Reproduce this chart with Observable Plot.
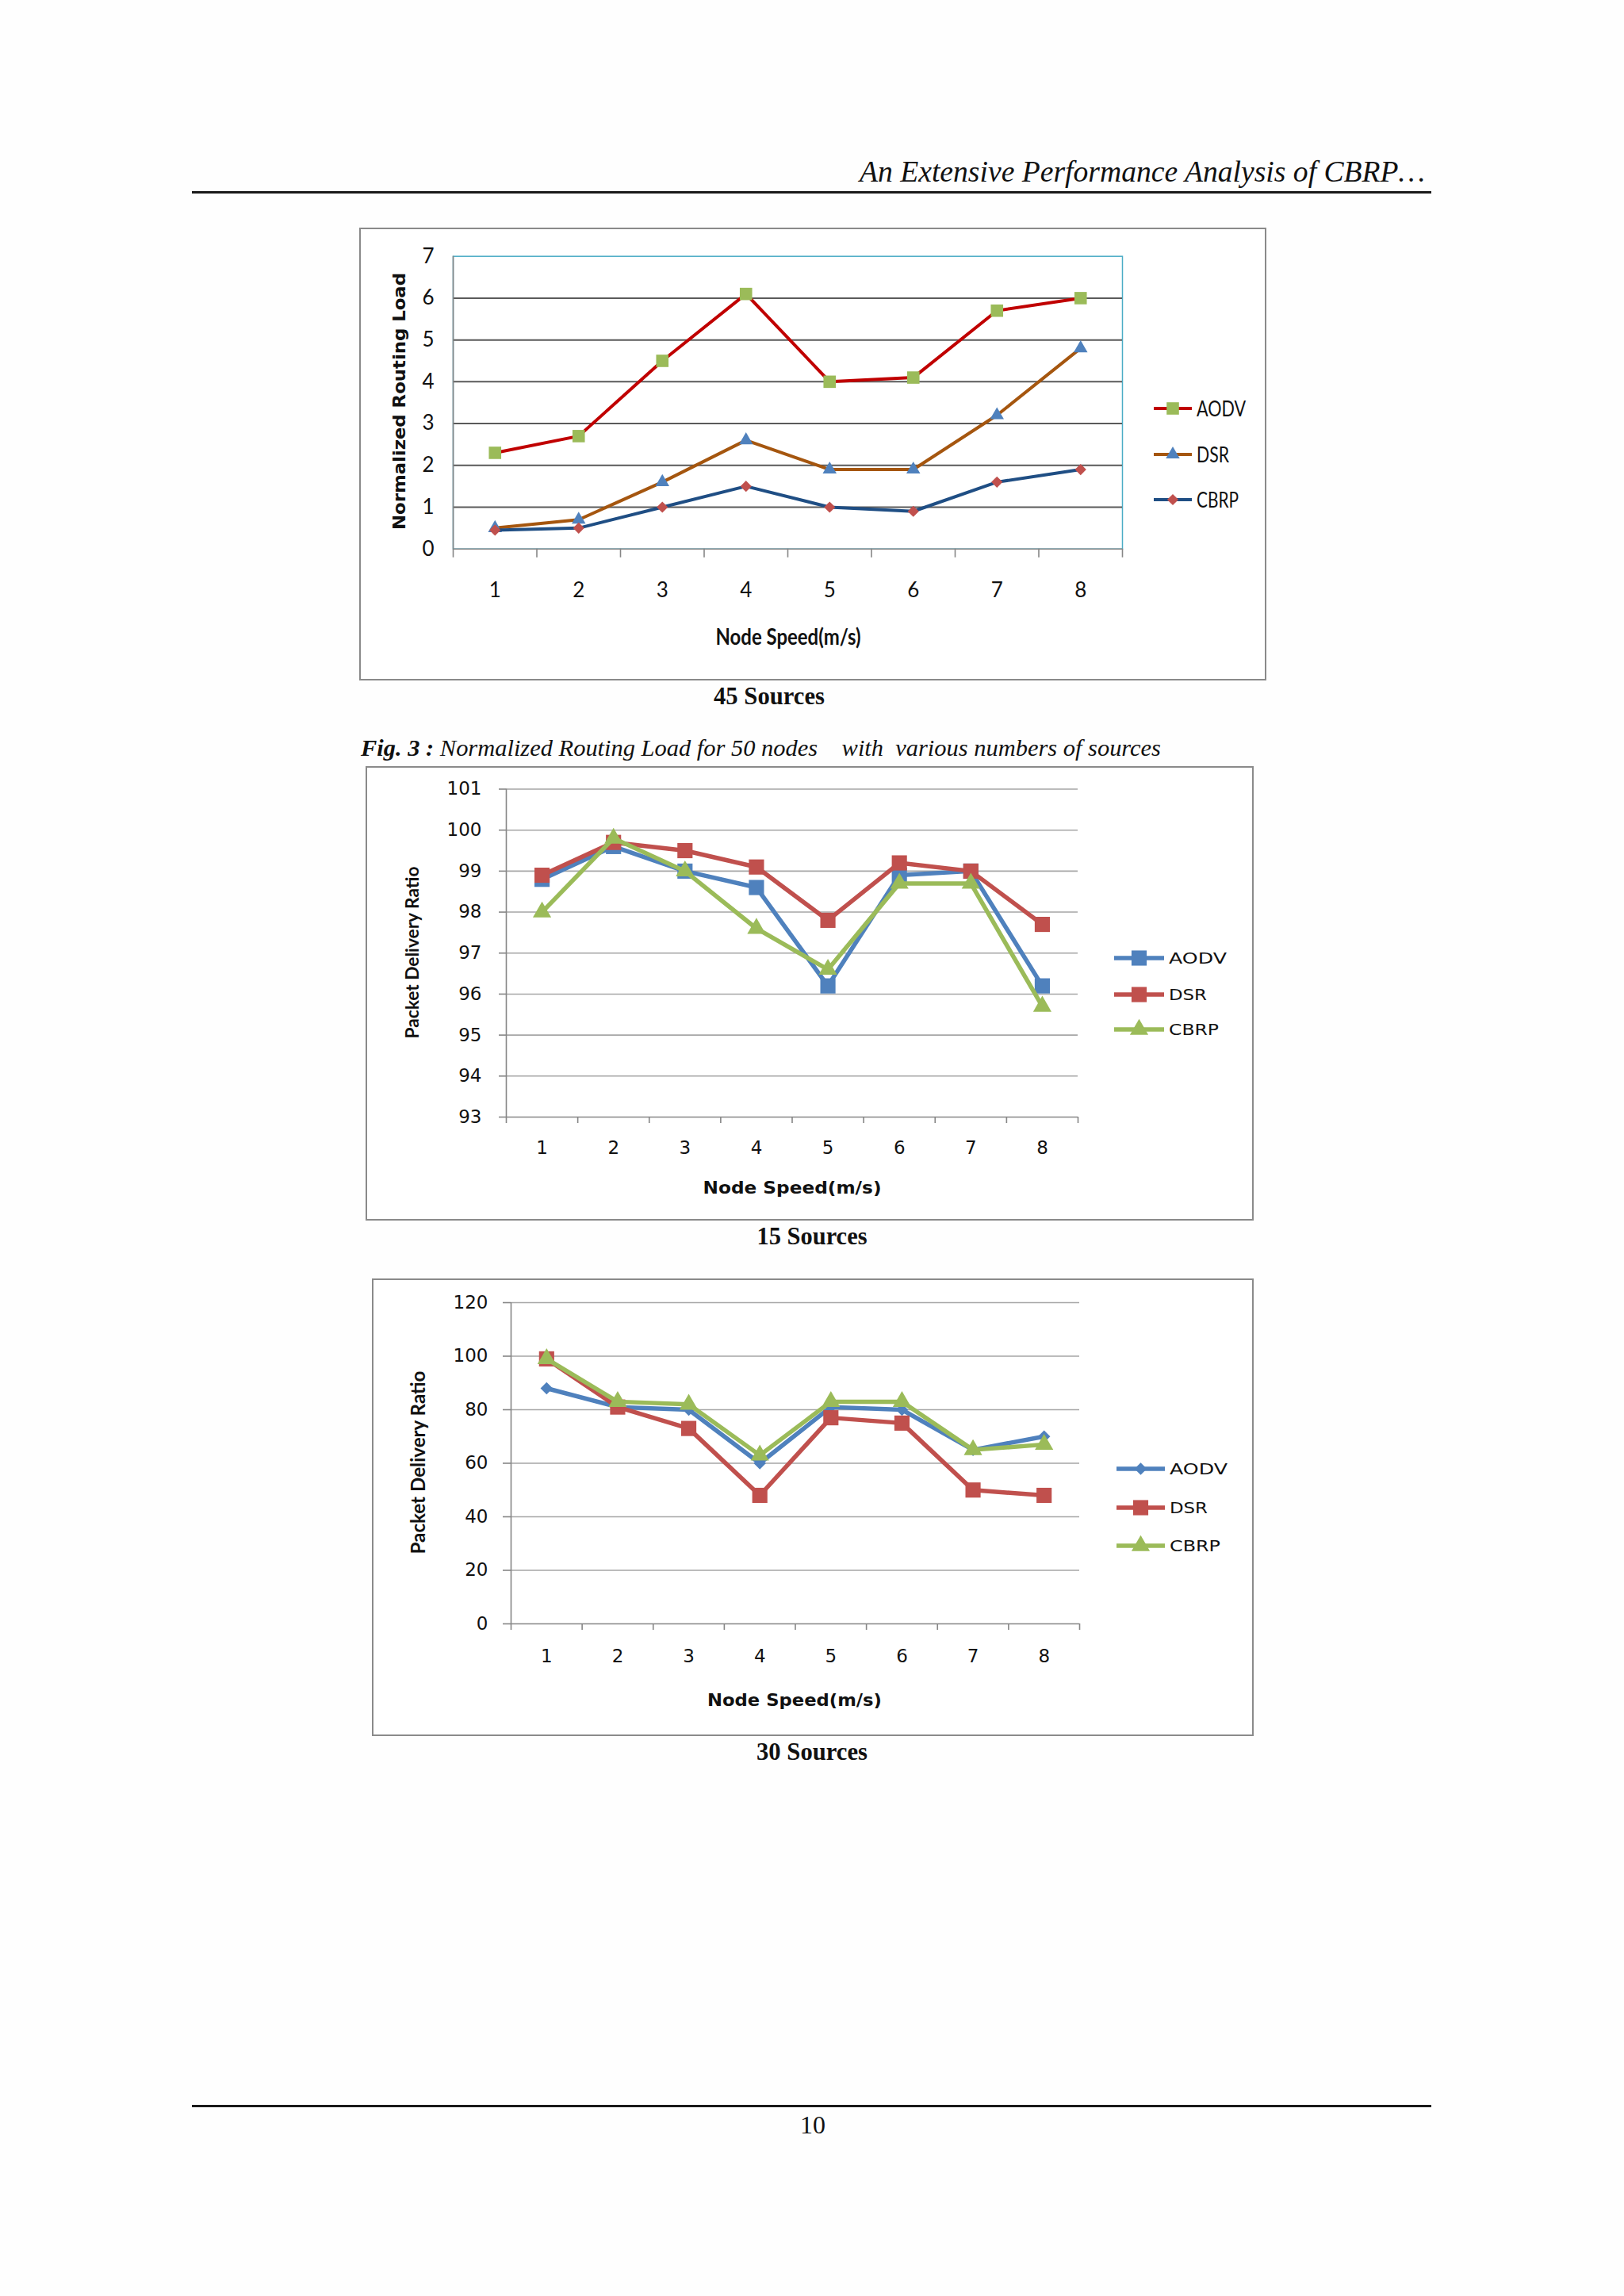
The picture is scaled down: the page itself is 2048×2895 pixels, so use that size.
<!DOCTYPE html>
<html>
<head>
<meta charset="utf-8">
<script src="https://cdn.jsdelivr.net/npm/d3@7"></script>
<script src="https://cdn.jsdelivr.net/npm/@observablehq/plot@0.6"></script>
<style>
html, body { margin: 0; padding: 0; }
body { width: 2048px; height: 2895px; position: relative; background: #fefefe; overflow: hidden; }
.box { position: absolute; box-sizing: border-box; border: 2px solid #8a8a8a; background: #ffffff; }
.chart { position: absolute; }
#overlay { position: absolute; left: 0; top: 0; pointer-events: none; }
</style>
</head>
<body>
<script>
// ---------------- data ----------------
const speeds = [1, 2, 3, 4, 5, 6, 7, 8];
const protocols = ["AODV", "DSR", "CBRP"];

// Normalized Routing Load, 45 sources
const nrl45AODV = [2.3, 2.7, 4.5, 6.1, 4.0, 4.1, 5.7, 6.0];
const nrl45DSR  = [0.5, 0.7, 1.6, 2.6, 1.9, 1.9, 3.2, 4.8];
const nrl45CBRP = [0.45, 0.5, 1.0, 1.5, 1.0, 0.9, 1.6, 1.9];
const nrl45Ticks = [0, 1, 2, 3, 4, 5, 6, 7];

// Packet Delivery Ratio, 15 sources
const pdr15AODV = [98.8, 99.6, 99.0, 98.6, 96.2, 98.9, 99.0, 96.2];
const pdr15DSR  = [98.9, 99.7, 99.5, 99.1, 97.8, 99.2, 99.0, 97.7];
const pdr15CBRP = [98.0, 99.8, 99.0, 97.6, 96.6, 98.7, 98.7, 95.7];
const pdr15Ticks = [93, 94, 95, 96, 97, 98, 99, 100, 101];

// Packet Delivery Ratio, 30 sources
const pdr30AODV = [88, 81, 80, 60, 81, 80, 65, 70];
const pdr30DSR  = [99, 81, 73, 48, 77, 75, 50, 48];
const pdr30CBRP = [99, 83, 82, 63, 83, 83, 65, 67];
const pdr30Ticks = [0, 20, 40, 60, 80, 100, 120];

const xTitle = "Node Speed(m/s)";
const yTitleNRL = "Normalized Routing Load";
const yTitlePDR = "Packet Delivery Ratio";

// ---------------- styles ----------------
const C_BLUE = "#4f81bd", C_RED = "#c0504d", C_GREEN = "#9bbb59";
const AXIS = "#868686";
const SERIF = "Liberation Serif, Times New Roman, serif";

const charts = [
  {
    box: [453, 287, 1597, 858], margins: [35.7, 182, 166.3, 118],
    ticks: nrl45Ticks, frameColor: "#4bacc6", gridColor: "#5a5a5a", gridWidth: 2,
    xTickSize: 11, yTickSize: 0, yPad: 24, xPad: 42,
    tickFont: "Lato, sans-serif", tickSize: 26, lineWidth: 4,
    series: [
      {name: "AODV", values: nrl45AODV, line: "#c00000", marker: C_GREEN, symbol: "square", r: 8.8},
      {name: "DSR", values: nrl45DSR, line: "#a5560f", marker: C_BLUE, symbol: "triangle", r: 6.5},
      {name: "CBRP", values: nrl45CBRP, line: "#1f4e84", marker: C_RED, symbol: "diamond2", r: 6.4}
    ]
  },
  {
    box: [461, 966, 1581, 1539], margins: [28.5, 222, 131, 177],
    ticks: pdr15Ticks, frameColor: null, gridColor: "#a6a6a6", gridWidth: 1.6,
    xTickSize: 8, yTickSize: 9, yPad: 22, xPad: 30,
    tickFont: "DejaVu Sans, sans-serif", tickSize: 23, lineWidth: 5.5,
    series: [
      {name: "AODV", values: pdr15AODV, line: C_BLUE, marker: C_BLUE, symbol: "square", r: 10.8},
      {name: "DSR", values: pdr15DSR, line: C_RED, marker: C_RED, symbol: "square", r: 10.8},
      {name: "CBRP", values: pdr15CBRP, line: C_GREEN, marker: C_GREEN, symbol: "triangle", r: 8.6}
    ]
  },
  {
    box: [469, 1612, 1581, 2189], margins: [30, 220, 142, 175],
    ticks: pdr30Ticks, frameColor: null, gridColor: "#a6a6a6", gridWidth: 1.6,
    xTickSize: 8, yTickSize: 10, yPad: 19, xPad: 32,
    tickFont: "DejaVu Sans, sans-serif", tickSize: 23, lineWidth: 5.5,
    series: [
      {name: "AODV", values: pdr30AODV, line: C_BLUE, marker: C_BLUE, symbol: "diamond2", r: 7},
      {name: "DSR", values: pdr30DSR, line: C_RED, marker: C_RED, symbol: "square", r: 10.8},
      {name: "CBRP", values: pdr30CBRP, line: C_GREEN, marker: C_GREEN, symbol: "triangle", r: 8.6}
    ]
  }
];

function drawChart(cfg) {
  const [x0, y0, x1, y1] = cfg.box;
  const W = x1 - x0, H = y1 - y0;
  const [mt, mr, mb, ml] = cfg.margins;
  const box = document.createElement("div");
  box.className = "box";
  Object.assign(box.style, {left: x0 + "px", top: y0 + "px", width: W + "px", height: H + "px"});
  document.body.appendChild(box);

  const boundaries = [...speeds.map(s => s - 0.5), speeds[speeds.length - 1] + 0.5];
  const lo = cfg.ticks[0], hi = cfg.ticks[cfg.ticks.length - 1];
  const gridTicks = cfg.frameColor ? cfg.ticks.slice(1, -1) : cfg.ticks.slice(1);
  const marks = [];
  if (cfg.frameColor) marks.push(Plot.frame({stroke: cfg.frameColor, strokeWidth: 1.5}));
  marks.push(Plot.ruleY(gridTicks, {stroke: cfg.gridColor, strokeWidth: cfg.gridWidth}));
  marks.push(Plot.ruleY([lo], {stroke: AXIS, strokeWidth: 1.6}));
  marks.push(Plot.ruleX([boundaries[0]], {stroke: AXIS, strokeWidth: 1.6}));
  marks.push(Plot.axisX({ticks: boundaries, tickSize: cfg.xTickSize, tickFormat: () => "", stroke: AXIS, strokeWidth: 1.6, label: null}));
  marks.push(Plot.axisX({ticks: speeds, tickSize: 0, tickPadding: cfg.xPad, tickFormat: d => String(d),
    fontSize: cfg.tickSize, fontFamily: cfg.tickFont, fill: "#111", label: null}));
  marks.push(Plot.axisY({ticks: cfg.ticks, tickSize: cfg.yTickSize, tickPadding: cfg.yPad, tickFormat: d => String(d),
    stroke: AXIS, strokeWidth: 1.6, fontSize: cfg.tickSize, fontFamily: cfg.tickFont, fill: "#111", label: null}));
  for (const s of cfg.series) {
    const rows = speeds.map((sp, i) => ({speed: sp, value: s.values[i], protocol: s.name}));
    marks.push(Plot.line(rows, {x: "speed", y: "value", stroke: s.line, strokeWidth: cfg.lineWidth, strokeLinejoin: "round"}));
    marks.push(Plot.dot(rows, {x: "speed", y: "value", symbol: s.symbol, r: s.r, fill: s.marker, stroke: "none"}));
  }
  const svg = Plot.plot({
    width: W, height: H,
    marginTop: mt, marginRight: mr, marginBottom: mb, marginLeft: ml,
    x: {type: "linear", domain: [boundaries[0], boundaries[boundaries.length - 1]]},
    y: {type: "linear", domain: [lo, hi]},
    style: {background: "transparent", overflow: "visible", fontFamily: cfg.tickFont, fontSize: cfg.tickSize + "px", color: "#111"},
    marks
  });
  svg.classList.add("chart");
  svg.style.left = x0 + "px";
  svg.style.top = y0 + "px";
  svg.style.position = "absolute";
  document.body.appendChild(svg);
}

charts.forEach(drawChart);

// ---------------- page text, legends, rules ----------------
const ov = d3.select("body").append("svg").attr("id", "overlay").attr("width", 2048).attr("height", 2895);

function txt(str, o) {
  const t = ov.append("text")
    .attr("font-family", o.family || SERIF)
    .attr("font-size", o.size)
    .attr("fill", o.fill || "#111")
    .attr("text-anchor", o.anchor || "start")
    .style("white-space", "pre");
  if (o.weight) t.attr("font-weight", o.weight);
  if (o.italic) t.attr("font-style", "italic");
  if (o.rotate) {
    t.attr("transform", `translate(${o.x},${o.y}) rotate(${o.rotate})`).attr("dy", "0.36em");
  } else {
    t.attr("x", o.x).attr("y", o.y);
  }
  if (o.len) t.attr("textLength", o.len).attr("lengthAdjust", "spacingAndGlyphs");
  if (str != null) t.text(str);
  return t;
}

// header
txt("An Extensive Performance Analysis of CBRP\u2026", {x: 1084, y: 229, size: 38, italic: true, len: 713});
ov.append("line").attr("x1", 242).attr("x2", 1805).attr("y1", 242.5).attr("y2", 242.5).attr("stroke", "#1a1a1a").attr("stroke-width", 3);
// footer
ov.append("line").attr("x1", 242).attr("x2", 1805).attr("y1", 2655.5).attr("y2", 2655.5).attr("stroke", "#1a1a1a").attr("stroke-width", 3);
txt("10", {x: 1025, y: 2690, size: 32, anchor: "middle"});

// captions
txt("45 Sources", {x: 970, y: 888, size: 31, weight: "bold", anchor: "middle", len: 140});
const fig = txt(null, {x: 455, y: 953, size: 29, italic: true, len: 1009});
fig.append("tspan").attr("font-weight", "bold").text("Fig. 3 :");
fig.append("tspan").text(" Normalized Routing Load for 50 nodes    with  various numbers of sources");
txt("15 Sources", {x: 1024, y: 1569, size: 31, weight: "bold", anchor: "middle", len: 139});
txt("30 Sources", {x: 1024, y: 2219, size: 31, weight: "bold", anchor: "middle", len: 140});

// axis titles
txt(yTitleNRL, {x: 503, y: 506, size: 21, family: "DejaVu Sans, sans-serif", weight: "bold", anchor: "middle", rotate: -90, len: 324});
txt(xTitle, {x: 994, y: 813, size: 28, family: "Lato, sans-serif", weight: "bold", anchor: "middle", len: 183});
txt(yTitlePDR, {x: 520, y: 1201, size: 23, family: "Lato, sans-serif", weight: "bold", anchor: "middle", rotate: -90, len: 217});
txt(xTitle, {x: 999, y: 1505, size: 22, family: "DejaVu Sans, sans-serif", weight: "bold", anchor: "middle", len: 225});
txt(yTitlePDR, {x: 527, y: 1844, size: 24, family: "Lato, sans-serif", weight: "bold", anchor: "middle", rotate: -90, len: 231});
txt(xTitle, {x: 1002, y: 2151, size: 22, family: "DejaVu Sans, sans-serif", weight: "bold", anchor: "middle", len: 220});

// legends
const symbolMap = {square: d3.symbolSquare, triangle: d3.symbolTriangle, diamond2: d3.symbolDiamond2};
const legendLayouts = [
  {lx1: 1455, lx2: 1503, tx: 1509, ys: [515, 573, 630], font: "Lato, sans-serif", size: 26, lens: [62, 41, 53], cap: 9.5},
  {lx1: 1405, lx2: 1468, tx: 1474, ys: [1208, 1254, 1298], font: "DejaVu Sans, sans-serif", size: 20, lens: [73, 48, 63], cap: 7.3},
  {lx1: 1408, lx2: 1469, tx: 1475, ys: [1852, 1901, 1949], font: "DejaVu Sans, sans-serif", size: 20, lens: [73, 48, 64], cap: 7.3}
];
charts.forEach((cfg, ci) => {
  const L = legendLayouts[ci];
  cfg.series.forEach((s, i) => {
    const y = L.ys[i];
    ov.append("line").attr("x1", L.lx1).attr("x2", L.lx2).attr("y1", y).attr("y2", y)
      .attr("stroke", s.line).attr("stroke-width", cfg.lineWidth);
    ov.append("path").attr("transform", `translate(${(L.lx1 + L.lx2) / 2},${y})`)
      .attr("d", d3.symbol(symbolMap[s.symbol], Math.PI * s.r * s.r)())
      .attr("fill", s.marker);
    txt(s.name, {x: L.tx, y: y + L.cap, size: L.size, family: L.font, len: L.lens[i]});
  });
});
</script>
</body>
</html>
